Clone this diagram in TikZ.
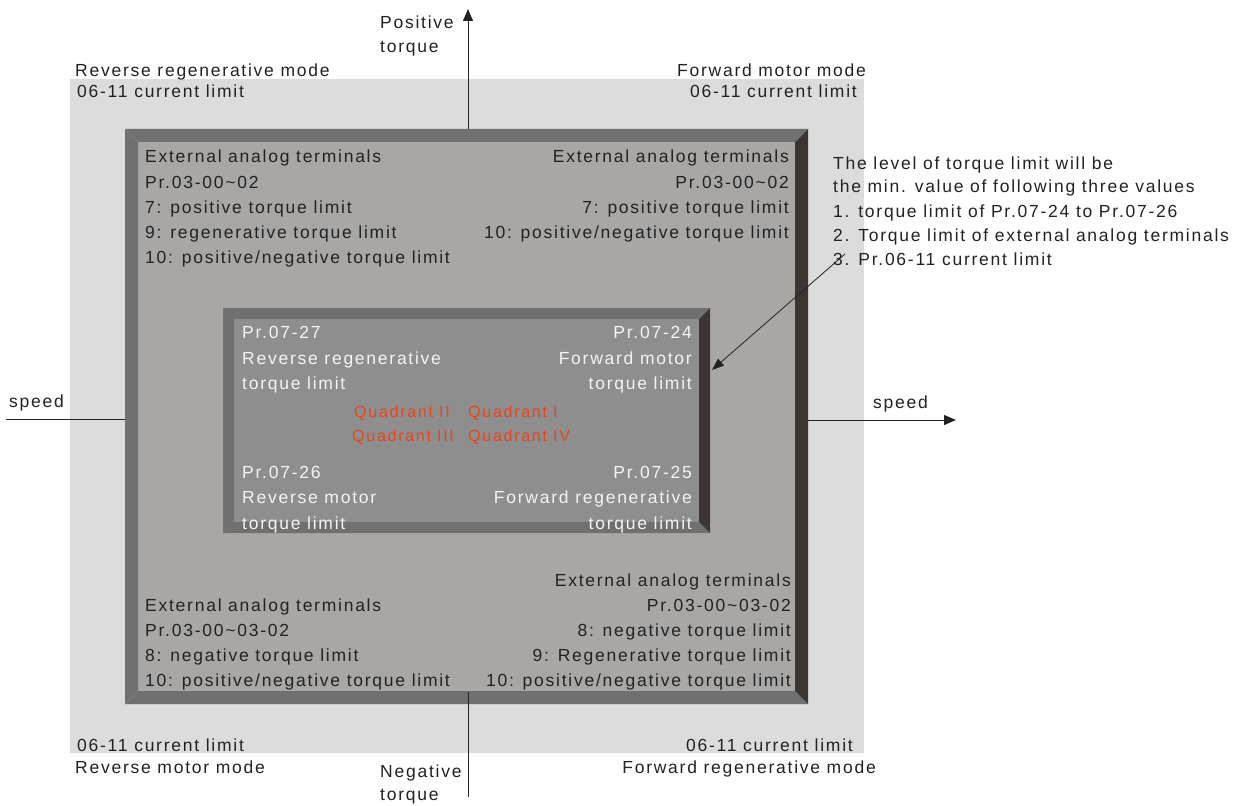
\documentclass[tikz,border=0pt]{standalone}
\usepackage{fontspec}
\setmainfont{Liberation Sans}[LetterSpace=10]
\usetikzlibrary{arrows.meta}
\definecolor{bgl}{HTML}{DCDCDC}
\definecolor{frm}{HTML}{A9A7A5}
\definecolor{bvl}{HTML}{707070}
\definecolor{bvd}{HTML}{3B3633}
\definecolor{inb}{HTML}{8E8E8E}
\definecolor{txtc}{HTML}{222222}
\definecolor{wht}{HTML}{F4F4F4}
\definecolor{quad}{HTML}{E8461E}
\begin{document}
\begin{tikzpicture}[x=1pt,y=-1pt,
 lbl/.style={inner sep=0, text=txtc, font=\fontsize{17.5}{20}\selectfont},
 wlbl/.style={lbl, text=wht},
 qlbl/.style={inner sep=0, text=quad, font=\fontsize{16.2}{19}\selectfont},
 axisline/.style={draw=txtc, line width=1pt},
 arr/.style={axisline, -{Triangle[length=12pt,width=10pt]}}]
\useasboundingbox (0,0) rectangle (1246,805);
\fill[white] (0,0) rectangle (1246,805);
% outer light area
\fill[bgl] (70,79) rectangle (864,753);
% big frame
\fill[frm] (138,142) rectangle (795,691);
\fill[bvl] (125,129) -- (808,129) -- (795,142) -- (138,142) -- cycle;
\fill[bvl] (125,129) -- (138,142) -- (138,691) -- (125,704) -- cycle;
\fill[bvl] (125,704) -- (138,691) -- (795,691) -- (808,704) -- cycle;
\fill[bvd] (808,129) -- (808,704) -- (795,691) -- (795,142) -- cycle;
% inner box
\fill[inb] (234,319) rectangle (699,522);
\fill[bvl] (223,308) -- (710,308) -- (699,319) -- (234,319) -- cycle;
\fill[bvl] (223,308) -- (234,319) -- (234,522) -- (223,533) -- cycle;
\fill[bvl] (223,533) -- (234,522) -- (699,522) -- (710,533) -- cycle;
\fill[bvd] (710,308) -- (710,533) -- (699,522) -- (699,319) -- cycle;
% axes
\coordinate (vtop) at (468,9);
\coordinate (vft) at (468,129);
\coordinate (vfb) at (468,692);
\coordinate (vbot) at (468,797);
\coordinate (hl) at (6,419);
\coordinate (hfl) at (125,419);
\coordinate (hfr) at (808,420);
\coordinate (hr) at (956,420);
\draw[arr] (vft) -- (vtop);
\draw[axisline] (vfb) -- (vbot);
\draw[axisline] (hl) -- (hfl);
\draw[arr] (hfr) -- (hr);
% axis labels
\node[lbl, anchor=base west] (pos1) at (380,29) {Positive};
\node[lbl, anchor=base west] (pos2) at (380,53) {torque};
\node[lbl, anchor=base west] (neg1) at (380,777) {Negative};
\node[lbl, anchor=base west] (neg2) at (380,800) {torque};
\node[lbl, anchor=base west] (spl) at (9,407) {speed};
\node[lbl, anchor=base west] (spr) at (873,408) {speed};
% corner mode labels
\node[lbl, anchor=base west] (tl1) at (75,77) {Reverse regenerative mode};
\node[lbl, anchor=base west] (tl2) at (77,98) {06-11 current limit};
\node[lbl, anchor=base east] (tr1) at (866,77) {Forward motor mode};
\node[lbl, anchor=base east] (tr2) at (857,98) {06-11 current limit};
\node[lbl, anchor=base west] (bl1) at (77,751) {06-11 current limit};
\node[lbl, anchor=base west] (bl2) at (75,773) {Reverse motor mode};
\node[lbl, anchor=base east] (br1) at (853,751) {06-11 current limit};
\node[lbl, anchor=base east] (br2) at (876,773) {Forward regenerative mode};
% frame blocks
\node[lbl, anchor=base west] (a1) at (145,163) {External analog terminals};
\node[lbl, anchor=base west] (a2) at (145,188) {Pr.03-00\textasciitilde02};
\node[lbl, anchor=base west] (a3) at (145,213) {7: positive torque limit};
\node[lbl, anchor=base west] (a4) at (145,238) {9: regenerative torque limit};
\node[lbl, anchor=base west] (a5) at (145,263) {10: positive/negative torque limit};
\node[lbl, anchor=base east] (b1) at (789,163) {External analog terminals};
\node[lbl, anchor=base east] (b2) at (789,188) {Pr.03-00\textasciitilde02};
\node[lbl, anchor=base east] (b3) at (789,213) {7: positive torque limit};
\node[lbl, anchor=base east] (b4) at (789,238) {10: positive/negative torque limit};
\node[lbl, anchor=base west] (c1) at (145,611) {External analog terminals};
\node[lbl, anchor=base west] (c2) at (145,636) {Pr.03-00\textasciitilde03-02};
\node[lbl, anchor=base west] (c3) at (145,661) {8: negative torque limit};
\node[lbl, anchor=base west] (c4) at (145,686) {10: positive/negative torque limit};
\node[lbl, anchor=base east] (d1) at (791,586) {External analog terminals};
\node[lbl, anchor=base east] (d2) at (791,611) {Pr.03-00\textasciitilde03-02};
\node[lbl, anchor=base east] (d3) at (791,636) {8: negative torque limit};
\node[lbl, anchor=base east] (d4) at (791,661) {9: Regenerative torque limit};
\node[lbl, anchor=base east] (d5) at (791,686) {10: positive/negative torque limit};
% inner box texts
\node[wlbl, anchor=base west] (e1) at (242,338) {Pr.07-27};
\node[wlbl, anchor=base west] (e2) at (242,364) {Reverse regenerative};
\node[wlbl, anchor=base west] (e3) at (242,389) {torque limit};
\node[wlbl, anchor=base east] (f1) at (692,338) {Pr.07-24};
\node[wlbl, anchor=base east] (f2) at (692,364) {Forward motor};
\node[wlbl, anchor=base east] (f3) at (692,389) {torque limit};
\node[wlbl, anchor=base west] (g1) at (242,478) {Pr.07-26};
\node[wlbl, anchor=base west] (g2) at (242,503) {Reverse motor};
\node[wlbl, anchor=base west] (g3) at (242,529) {torque limit};
\node[wlbl, anchor=base east] (h1) at (692,478) {Pr.07-25};
\node[wlbl, anchor=base east] (h2) at (692,503) {Forward regenerative};
\node[wlbl, anchor=base east] (h3) at (692,529) {torque limit};
% quadrants
\node[qlbl, anchor=base west] (q2) at (354,417) {Quadrant II};
\node[qlbl, anchor=base west] (q1) at (468,417) {Quadrant I};
\node[qlbl, anchor=base west] (q3) at (352,441) {Quadrant III};
\node[qlbl, anchor=base west] (q4) at (468,441) {Quadrant IV};
% note
\node[lbl, anchor=base west] (n1) at (833,169) {The level of torque limit will be};
\node[lbl, anchor=base west] (n2) at (833,193) {the min. value of following three values};
\node[lbl, anchor=base west] (n3) at (833,217) {1. torque limit of Pr.07-24 to Pr.07-26};
\node[lbl, anchor=base west] (n4) at (833,241) {2. Torque limit of external analog terminals};
\node[lbl, anchor=base west] (n5) at (833,265) {3. Pr.06-11 current limit};
\coordinate (ns) at (845,254);
\coordinate (ne) at (712,370);
\draw[axisline, line width=0.8pt, -{Triangle[length=12pt,width=9pt]}] (ns) -- (ne);
\end{tikzpicture}
\end{document}
